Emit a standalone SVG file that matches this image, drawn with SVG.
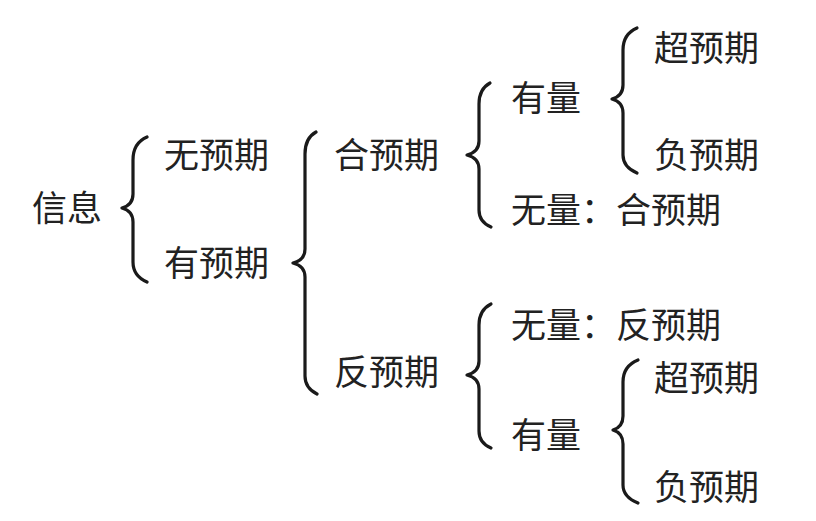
<svg xmlns="http://www.w3.org/2000/svg" width="816" height="521" viewBox="0 0 816 521">
<style>
text{font-family:"Noto Sans CJK SC","Noto Sans CJK JP",sans-serif;font-size:35px;fill:#222;}
.brace{fill:none;stroke:#1a1a1a;stroke-width:3.2;stroke-linecap:round;stroke-linejoin:round;}
</style>
<rect width="816" height="521" fill="#fff"/>
<g id="connectors">
<path class="brace" d="M147,137 Q133,143 133,160 L133,194 Q133,205 122,208 Q133,211 133,222 L133,262 Q133,276 147,282"/>
<path class="brace" d="M316,132 Q305,138 305,154 L305,249 Q305,260 293,263 Q305,266 305,277 L305,376 Q305,388 317,394"/>
<path class="brace" d="M490,83 Q479,89 479,104 L479,141 Q479,152 467,155 Q479,158 479,169 L479,210 Q479,222 491,227"/>
<path class="brace" d="M637,28 Q623,34 623,50 L623,85 Q623,96 612,99 Q623,102 623,113 L623,155 Q623,167 637,173"/>
<path class="brace" d="M491,304 Q479,310 479,325 L479,361 Q479,372 467,375 Q479,378 479,389 L479,431 Q479,443 491,448"/>
<path class="brace" d="M638,360 Q623,366 623,382 L623,416 Q623,427 613,430 Q623,433 623,444 L623,485 Q623,497 638,503"/>
</g>
<g id="n-xinxi"><text x="32" y="221">信息</text></g>
<g id="n-wuyuqi"><text x="164" y="168">无预期</text></g>
<g id="n-youyuqi"><text x="164" y="276">有预期</text></g>
<g id="n-heyuqi"><text x="334" y="168">合预期</text></g>
<g id="n-fanyuqi"><text x="334" y="385">反预期</text></g>
<g id="n-youliang1"><text x="511" y="111">有量</text></g>
<g id="n-wuliang1"><text x="511" y="223">无量：合预期</text></g>
<g id="n-chao1"><text x="654" y="61">超预期</text></g>
<g id="n-fu1"><text x="654" y="168">负预期</text></g>
<g id="n-wuliang2"><text x="511" y="338">无量：反预期</text></g>
<g id="n-youliang2"><text x="511" y="448">有量</text></g>
<g id="n-chao2"><text x="654" y="391">超预期</text></g>
<g id="n-fu2"><text x="654" y="500">负预期</text></g>
</svg>
